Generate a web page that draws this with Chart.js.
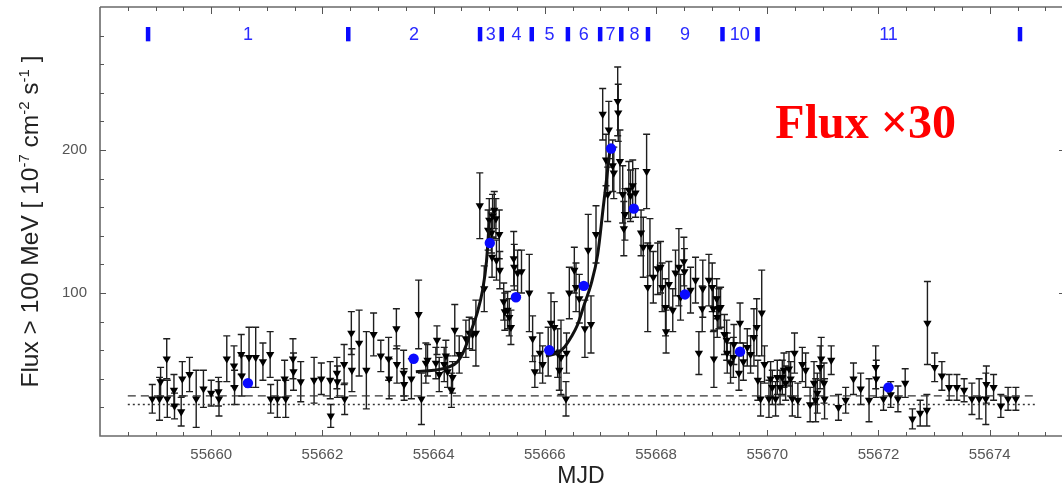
<!DOCTYPE html>
<html><head><meta charset="utf-8">
<script src="https://cdn.jsdelivr.net/npm/chart.js@4/dist/chart.umd.min.js"></script>
<style>html,body{margin:0;padding:0;background:#fff;overflow:hidden}canvas{display:block}</style>
</head><body>
<canvas id="c" width="1062" height="486"></canvas>
<script>
// ---- data ----
const mjd = [55658.94,55659.07,55659.09,55659.20,55659.21,55659.33,55659.34,55659.46,55659.48,55659.61,55659.73,55659.86,55660.00,55660.13,55660.14,55660.28,55660.41,55660.42,55660.54,55660.55,55660.68,55660.80,55660.93,55661.06,55661.07,55661.19,55661.32,55661.34,55661.47,55661.48,55661.61,55661.85,55661.98,55662.14,55662.15,55662.26,55662.27,55662.39,55662.40,55662.52,55662.53,55662.66,55662.79,55662.92,55663.05,55663.19,55663.20,55663.33,55663.34,55663.46,55663.47,55663.60,55663.73,55663.78,55663.86,55663.89,55664.04,55664.06,55664.10,55664.19,55664.22,55664.25,55664.32,55664.34,55664.38,55664.46,55664.58,55664.64,55664.70,55664.76,55664.83,55664.91,55664.98,55665.00,55665.04,55665.05,55665.06,55665.09,55665.12,55665.13,55665.18,55665.19,55665.26,55665.28,55665.33,55665.36,55665.39,55665.44,55665.45,55665.51,55665.58,55665.72,55665.78,55665.82,55665.91,55665.96,55666.06,55666.11,55666.17,55666.23,55666.26,55666.29,55666.38,55666.39,55666.44,55666.53,55666.56,55666.62,55666.72,55666.78,55666.83,55666.92,55667.04,55667.10,55667.13,55667.15,55667.22,55667.24,55667.31,55667.32,55667.35,55667.40,55667.42,55667.44,55667.51,55667.54,55667.58,55667.63,55667.73,55667.77,55667.83,55667.85,55667.89,55667.95,55668.03,55668.08,55668.11,55668.17,55668.18,55668.23,55668.30,55668.35,55668.41,55668.44,55668.50,55668.51,55668.62,55668.71,55668.77,55668.83,55668.84,55668.95,55669.01,55669.03,55669.04,55669.09,55669.10,55669.13,55669.16,55669.23,55669.27,55669.28,55669.34,55669.39,55669.40,55669.49,55669.51,55669.57,55669.64,55669.70,55669.76,55669.81,55669.83,55669.88,55669.90,55669.95,55670.03,55670.06,55670.09,55670.15,55670.18,55670.23,55670.27,55670.30,55670.33,55670.39,55670.42,55670.45,55670.49,55670.55,55670.63,55670.69,55670.77,55670.84,55670.87,55670.90,55670.95,55670.97,55671.02,55671.03,55671.15,55671.28,55671.41,55671.55,55671.68,55671.83,55671.95,55671.96,55672.09,55672.22,55672.35,55672.48,55672.61,55672.75,55672.87,55672.88,55673.01,55673.14,55673.27,55673.41,55673.54,55673.68,55673.81,55673.93,55673.94,55674.07,55674.20,55674.33,55674.47];
const flux = [26,26,38,54,26,32,21,17,40,43,26,33,30,31,26,54,49,34,57,42,55,55,52,57,26,26,40,26,54,45,38,39,40,39,14,44,38,50,26,72,46,65,46,71,56,54,40,75,50,44,36,40,85,26,51,53,51,67,43,50,56,45,32,41,74,57,68,72,71,72,161,103,144,151,142,125,154,158,152,123,141,116,94,87,88,83,76,124,118,114,115,100,68,45,58,50,59,79,76,58,46,55,26,58,100,116,104,96,75,130,78,141,225,193,169,214,189,184,234,226,192,169,145,155,172,168,175,170,142,132,185,104,132,111,117,118,104,90,73,106,88,114,118,97,122,115,102,109,58,89,103,109,104,89,54,96,83,89,90,71,67,58,51,55,64,44,79,52,62,57,69,76,39,26,86,50,26,40,34,26,41,34,41,46,37,47,40,26,58,25,50,46,22,37,25,30,48,54,37,26,53,20,25,40,33,25,48,40,26,29,26,37,12,16,18,79,48,42,34,34,32,26,26,26,36,34,21,26,26];
const fluxErr = [10,15,10,14,13,11,9,10,12,12,20,13,9,10,12,16,14,12,14,14,21,21,13,16,10,13,13,13,14,13,14,16,11,13,8,11,11,14,11,15,15,23,27,15,11,15,14,14,13,16,11,14,24,18,14,11,11,10,12,12,11,11,12,11,18,13,13,11,11,23,23,16,14,15,14,14,15,13,14,14,17,13,13,13,13,13,12,19,16,16,15,27,16,11,14,13,17,21,18,17,14,26,12,14,18,16,17,17,20,25,20,20,18,18,19,20,18,18,24,20,22,20,19,18,20,18,18,17,16,21,26,31,20,18,18,18,17,20,15,16,15,16,27,16,17,16,16,16,15,16,20,18,17,16,20,14,14,14,14,14,14,14,14,14,14,12,14,13,13,13,20,20,14,12,30,13,13,12,12,12,12,12,12,12,12,12,12,12,14,12,12,12,12,15,15,14,15,15,14,14,10,9,9,11,11,15,15,13,8,9,9,10,7,9,11,29,10,10,9,9,8,11,14,18,13,9,8,8,8];
const binMjd  = [55660.66,55663.64,55665.01,55665.48,55666.08,55666.70,55667.19,55667.60,55668.52,55669.51,55672.18];
const binFlux = [37,54,135,97,60,105,201,159,99,59,34];
const fit1Mjd  = [55663.68,55664.00,55664.25,55664.43,55664.55,55664.67,55664.79,55664.88,55664.95,55665.00];
const fit1Flux = [45,46,48,52,60,73,87,102,122,150];
const fit2Mjd  = [55666.02,55666.23,55666.35,55666.47,55666.59,55666.70,55666.83,55666.95,55667.05,55667.12,55667.18];
const fit2Flux = [56,58,62,69,78,91,106,127,160,183,203];
const periodEdges  = [55658.86,55662.46,55664.83,55665.22,55665.76,55666.41,55666.99,55667.37,55667.85,55669.19,55669.82,55674.54];
const periodLabels = ['1','2','3','4','5','6','7','8','9','10','11'];
const quiescentDashed = 28;
const quiescentDotted = 22;
const quiescentSpan = [55658.5, 55674.85];
const xTickLabels = [55660,55662,55664,55666,55668,55670,55672,55674];
const yTickLabels = [100,200];
const xRange = [55658, 55675.3];
const yRange = [0, 300];
const annotationText = 'Flux \u00d730';
const annotationPos = [55671.77, 217];
const periodMarkerFlux = [276, 286];
const periodLabelFlux = 281;

// ---- drawing ----
const SANS = '"Liberation Sans", Arial, sans-serif';
const pts = (xs, ys) => xs.map((x, i) => ({x, y: ys[i]}));

const decorPlugin = {
  id: 'decor',
  beforeDatasetsDraw(chart) {
    const {ctx, scales: {x, y}} = chart;
    ctx.save();
    ctx.strokeStyle = '#1e1e1e';
    ctx.lineWidth = 1.4;
    for (let i = 0; i < mjd.length; i++) {
      const px = x.getPixelForValue(mjd[i]);
      const yt = y.getPixelForValue(flux[i] + fluxErr[i]);
      const yb = y.getPixelForValue(Math.max(flux[i] - fluxErr[i], 0));
      ctx.beginPath();
      ctx.moveTo(px, yt); ctx.lineTo(px, yb);
      ctx.moveTo(px - 3.5, yt); ctx.lineTo(px + 3.5, yt);
      ctx.moveTo(px - 3.5, yb); ctx.lineTo(px + 3.5, yb);
      ctx.stroke();
    }
    ctx.restore();
  },
  afterDraw(chart) {
    const {ctx, chartArea: a, scales: {x, y}} = chart;
    ctx.save();
    // frame (right side lies just outside the picture)
    ctx.strokeStyle = '#6a6a6a';
    ctx.lineWidth = 1.6;
    ctx.beginPath();
    ctx.moveTo(a.left, a.top); ctx.lineTo(a.left, a.bottom);
    ctx.lineTo(a.right, a.bottom);
    ctx.moveTo(a.left, a.top); ctx.lineTo(a.right, a.top);
    ctx.stroke();
    // ticks
    ctx.strokeStyle = '#555';
    ctx.lineWidth = 1;
    ctx.beginPath();
    for (let v = Math.ceil(xRange[0] * 2) / 2 + 0.5; v < xRange[1]; v += 0.5) {
      const px = Math.round(x.getPixelForValue(v)) + 0.5;
      const major = Math.abs(v / 2 - Math.round(v / 2)) < 1e-6;
      ctx.moveTo(px, a.bottom); ctx.lineTo(px, a.bottom - (major ? 6 : 4));
      ctx.moveTo(px, a.top); ctx.lineTo(px, a.top + (major ? 7 : 4));
    }
    for (let v = yRange[0] + 20; v < yRange[1]; v += 20) {
      const py = Math.round(y.getPixelForValue(v)) + 0.5;
      const major = v % 100 === 0;
      ctx.moveTo(a.left, py); ctx.lineTo(a.left + (major ? 6 : 4), py);
      if (major) { ctx.moveTo(a.right, py); ctx.lineTo(a.right - 3, py); }
    }
    ctx.stroke();
    // period markers
    ctx.fillStyle = '#0a0aff';
    const yTop = y.getPixelForValue(periodMarkerFlux[1]);
    const yBot = y.getPixelForValue(periodMarkerFlux[0]);
    periodEdges.forEach(e => {
      const px = x.getPixelForValue(e);
      ctx.fillRect(px - 2, yTop, 4.5, yBot - yTop);
    });
    ctx.fillStyle = '#2a2aff';
    ctx.font = '18px ' + SANS;
    ctx.textAlign = 'center';
    ctx.textBaseline = 'middle';
    periodLabels.forEach((t, i) => {
      const mid = (periodEdges[i] + periodEdges[i + 1]) / 2;
      ctx.fillText(t, x.getPixelForValue(mid), y.getPixelForValue(periodLabelFlux) + 1);
    });
    // annotation
    ctx.fillStyle = '#ff0000';
    ctx.font = 'bold 48px "Liberation Serif", "Times New Roman", serif';
    ctx.fillText(annotationText, x.getPixelForValue(annotationPos[0]), y.getPixelForValue(annotationPos[1]));
    // x title
    ctx.fillStyle = '#222';
    ctx.font = '23px ' + SANS;
    ctx.textBaseline = 'alphabetic';
    ctx.fillText('MJD', (a.left + a.right) / 2, 483);
    // y title with superscripts
    const parts = [['Flux > 100 MeV [ 10', 0], ['-7', 1], [' cm', 0], ['-2', 1], [' s', 0], ['-1', 1], [' ]', 0]];
    const fMain = '24.5px ' + SANS, fSup = '15px ' + SANS;
    let total = 0;
    parts.forEach(p => { ctx.font = p[1] ? fSup : fMain; total += ctx.measureText(p[0]).width; });
    ctx.translate(38, (a.top + a.bottom) / 2);
    ctx.rotate(-Math.PI / 2);
    ctx.textAlign = 'left';
    let cx = -total / 2;
    parts.forEach(p => {
      ctx.font = p[1] ? fSup : fMain;
      ctx.fillText(p[0], cx, p[1] ? -9 : 0);
      cx += ctx.measureText(p[0]).width;
    });
    ctx.restore();
  }
};

new Chart(document.getElementById('c').getContext('2d'), {
  type: 'scatter',
  data: {
    datasets: [
      {label: 'bins', data: pts(binMjd, binFlux), pointStyle: 'circle', pointRadius: 5.2, backgroundColor: '#0a0aff', borderWidth: 0, order: 0},
      {label: 'fit1', data: pts(fit1Mjd, fit1Flux), showLine: true, pointRadius: 0, borderColor: '#111', borderWidth: 3, cubicInterpolationMode: 'monotone', order: 1},
      {label: 'fit2', data: pts(fit2Mjd, fit2Flux), showLine: true, pointRadius: 0, borderColor: '#111', borderWidth: 3, cubicInterpolationMode: 'monotone', order: 1},
      {label: 'flux', data: pts(mjd, flux), pointStyle: 'triangle', rotation: 180, pointRadius: 4.8, backgroundColor: '#000', borderColor: '#000', borderWidth: 0, order: 2},
      {label: 'dashed', data: [{x: quiescentSpan[0], y: quiescentDashed}, {x: quiescentSpan[1], y: quiescentDashed}], showLine: true, pointRadius: 0, borderColor: '#333', borderWidth: 1.2, borderDash: [8, 5], order: 3},
      {label: 'dotted', data: [{x: quiescentSpan[0], y: quiescentDotted}, {x: quiescentSpan[1], y: quiescentDotted}], showLine: true, pointRadius: 0, borderColor: '#333', borderWidth: 1.4, borderDash: [2, 3], order: 3}
    ]
  },
  options: {
    responsive: false, animation: false, devicePixelRatio: 1,
    layout: {autoPadding: false, padding: {top: 7, left: 0, right: 0, bottom: 0}},
    plugins: {legend: {display: false}, tooltip: {enabled: false}},
    scales: {
      x: {
        type: 'linear', min: xRange[0], max: xRange[1],
        grid: {display: false}, border: {display: false},
        afterBuildTicks: s => { s.ticks = xTickLabels.map(v => ({value: v})); },
        afterFit: s => { s.height = 50; s.paddingLeft = 0; s.paddingRight = 0; },
        ticks: {callback: v => String(v), font: {family: SANS, size: 15}, color: '#555', padding: 2, maxRotation: 0, autoSkip: false}
      },
      y: {
        type: 'linear', min: yRange[0], max: yRange[1],
        grid: {display: false}, border: {display: false},
        afterBuildTicks: s => { s.ticks = yTickLabels.map(v => ({value: v})); },
        afterFit: s => { s.width = 100; s.paddingTop = 0; s.paddingBottom = 0; },
        ticks: {callback: v => String(v), font: {family: SANS, size: 15}, color: '#555', padding: 5}
      }
    }
  },
  plugins: [decorPlugin]
});
</script>
</body></html>
